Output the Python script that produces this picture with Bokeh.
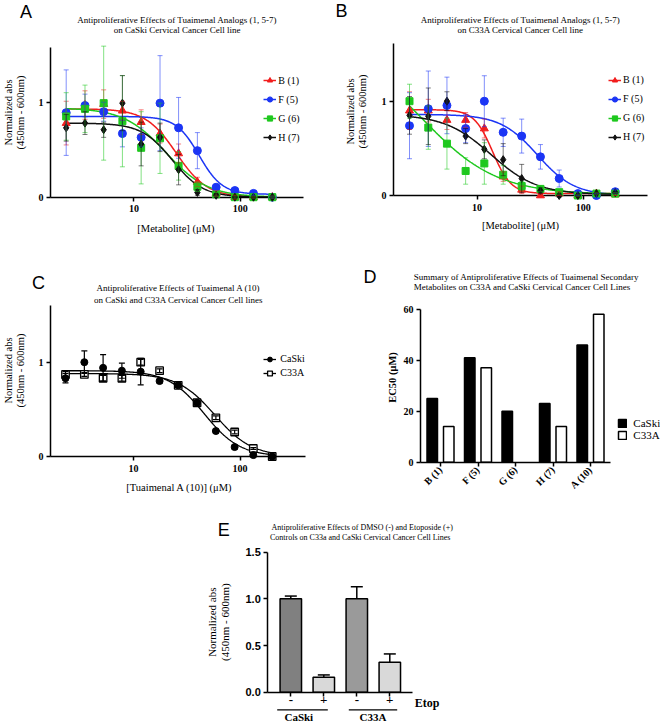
import math
import numpy as np
from bokeh.plotting import figure
from bokeh.layouts import column, row
from bokeh.models import (Range1d, FixedTicker, BasicTickFormatter, NumeralTickFormatter, LinearAxis, LogAxis,
                          Legend, LegendItem, Whisker, TeeHead, ColumnDataSource)
from bokeh.core.properties import value
from bokeh.embed import file_html
from bokeh.resources import INLINE

# ---------------- data ----------------
conc = [2.31, 3.47, 5.20, 7.80, 11.7, 17.6, 26.3, 39.5, 59.3, 88.9, 133.0, 200.0]
compounds = ["B (1)", "F (5)", "G (6)", "H (7)"]

# Panel A : CaSki
caski_B1 = [0.78, 0.97, 0.98, 0.91, 0.79, 0.67, 0.46, 0.16, 0.04, 0.00, 0.00, 0.00]
caski_F5 = [0.89, 0.965, 0.90, 0.67, 0.63, 0.99, 0.73, 0.49, 0.105, 0.07, 0.04, 0.00]
caski_G6 = [0.85, 0.93, 0.99, 0.80, 0.52, 0.62, 0.33, 0.11, 0.03, 0.00, 0.00, 0.00]
caski_H7 = [0.73, 0.78, 0.71, 0.99, 0.56, 0.63, 0.29, 0.05, 0.02, 0.00, 0.00, 0.00]
caski_B1_err = [0.23, 0.15, 0.15, 0.10, 0.13, 0.10, 0.10, 0.05, 0.03, 0.02, 0.01, 0.01]
caski_F5_err = [0.45, 0.12, 0.10, 0.14, 0.10, 0.50, 0.32, 0.19, 0.03, 0.02, 0.02, 0.01]
caski_G6_err = [0.25, 0.25, 0.60, 0.48, 0.38, 0.37, 0.15, 0.05, 0.02, 0.01, 0.01, 0.01]
caski_H7_err = [0.14, 0.12, 0.08, 0.29, 0.23, 0.15, 0.16, 0.03, 0.02, 0.01, 0.01, 0.01]
caski_top = [0.93, 0.85, 0.94, 0.78]
caski_bottom = [0.0, 0.03, 0.0, 0.0]
caski_ec50 = [25.0, 41.0, 20.0, 23.0]
caski_hill = [3.0, 4.0, 2.2, 3.0]

# Panel B : C33A
c33a_B1 = [0.90, 0.90, 0.80, 0.80, 0.71, 0.20, 0.06, 0.00, 0.02, 0.00, 0.02, 0.01]
c33a_F5 = [0.74, 0.92, 0.955, 0.71, 1.00, 0.67, 0.63, 0.41, 0.18, 0.02, 0.00, 0.04]
c33a_G6 = [1.00, 0.72, 0.55, 0.26, 0.34, 0.22, 0.10, 0.07, 0.035, 0.00, 0.02, 0.02]
c33a_H7 = [0.85, 0.84, 1.00, 0.63, 0.49, 0.38, 0.18, 0.05, 0.00, 0.00, 0.02, 0.03]
c33a_B1_err = [0.20, 0.12, 0.10, 0.08, 0.10, 0.05, 0.04, 0.02, 0.02, 0.01, 0.01, 0.01]
c33a_F5_err = [0.35, 0.40, 0.30, 0.15, 0.27, 0.15, 0.18, 0.13, 0.09, 0.02, 0.02, 0.02]
c33a_G6_err = [0.18, 0.23, 0.27, 0.14, 0.22, 0.10, 0.05, 0.03, 0.02, 0.01, 0.01, 0.01]
c33a_H7_err = [0.20, 0.30, 0.10, 0.08, 0.10, 0.17, 0.15, 0.03, 0.02, 0.01, 0.01, 0.01]
c33a_top = [0.91, 0.86, 1.60, 0.86]
c33a_bottom = [0.02, 0.0, 0.01, 0.01]
c33a_ec50 = [14.0, 37.0, 3.1, 13.5]
c33a_hill = [5.0, 2.5, 1.25, 2.0]

# Panel C : Tuaimenal A (10)
lines_C = ["CaSki", "C33A"]
a10_caski = [0.83, 1.00, 0.94, 0.91, 0.90, 0.80, 0.755, 0.57, 0.27, 0.10, 0.015, 0.0]
a10_c33a = [0.87, 0.87, 0.83, 0.83, 1.00, 0.91, 0.755, 0.57, 0.41, 0.26, 0.085, 0.0]
a10_caski_err = [0.05, 0.12, 0.14, 0.08, 0.14, 0.02, 0.02, 0.02, 0.02, 0.02, 0.01, 0.01]
a10_c33a_err = [0.03, 0.02, 0.03, 0.03, 0.03, 0.02, 0.02, 0.02, 0.02, 0.02, 0.01, 0.01]
a10_top = [0.91, 0.88]
a10_bottom = [0.0, 0.0]
a10_ec50 = [46.0, 58.0]
a10_hill = [2.6, 2.5]

# Panel D : EC50 summary
d_cats = ["B (1)", "F (5)", "G (6)", "H (7)", "A (10)"]
d_caski = [25, 41, 20, 23, 46]
d_c33a = [14, 37, float("nan"), 14, 58]
d_ticks = [0, 20, 40, 60]

# Panel E : controls
e_cats = ["CaSki -", "CaSki +", "C33A -", "C33A +"]
e_ticklabels = ["-", "+", "-", "+"]
e_vals = [1.00, 0.16, 1.00, 0.32]
e_err = [0.03, 0.025, 0.13, 0.09]
e_ticks = [0.0, 0.5, 1.0, 1.5]

# ---------------- helpers ----------------
SERIF = "Liberation Serif"
SANS = "Liberation Sans"


class Panel:
    """A figure whose frame covers its whole page region; page pixels <-> data."""

    def __init__(self, ox, oy, w, h, xref, yref, xlog=False):
        self.ox, self.oy, self.w, self.h, self.xlog = ox, oy, w, h, xlog
        (px1, v1), (px2, v2) = xref
        if xlog:
            v1, v2 = math.log10(v1), math.log10(v2)
        self.xa, self.xp, self.xs = v1, px1, (v2 - v1) / (px2 - px1)
        (py1, u1), (py2, u2) = yref
        self.ya, self.yp, self.ys = u1, py1, (u2 - u1) / (py2 - py1)
        kw = dict(x_axis_type="log") if xlog else {}
        p = figure(width=w, height=h, x_range=Range1d(self.X(ox), self.X(ox + w)),
                   y_range=Range1d(self.Y(oy + h), self.Y(oy)), output_backend="svg",
                   toolbar_location=None, title=None, x_axis_location=None, y_axis_location=None,
                   min_border=0, **kw)
        p.grid.visible = False
        p.outline_line_color = None
        p.background_fill_color = "white"
        p.border_fill_color = "white"
        self.p = p

    def X(self, px):
        v = self.xa + (px - self.xp) * self.xs
        return 10 ** v if self.xlog else v

    def Y(self, py):
        return self.ya + (py - self.yp) * self.ys

    def text(self, px, py, s, size, font=SERIF, style="normal", align="center", angle=0.0):
        self.p.text(x=[self.X(px)], y=[self.Y(py)], text=[s], text_font=value(font),
                    text_font_size=value(f"{size}px"), text_font_style=style, text_align=align,
                    text_baseline="middle", angle=angle, text_color="black", level="overlay")

    def hline(self, px0, px1, py, width=1.3):
        self.p.segment(x0=[self.X(px0)], y0=[self.Y(py)], x1=[self.X(px1)], y1=[self.Y(py)],
                       line_color="black", line_width=width, level="overlay")

    def axes(self, xb, y0px, yb, x0px, xcls=LinearAxis, xfont=SERIF, xsize=10, yfont=SERIF, ysize=10,
             xstand=4, ystand=3, xtick=4):
        """xb: (left px, right px) of x-axis at page y y0px; yb: (bottom px, top px) of y-axis at x0px."""
        xa = xcls(fixed_location=self.Y(y0px), bounds=(self.X(xb[0]), self.X(xb[1])))
        ya = LinearAxis(fixed_location=self.X(x0px), bounds=(self.Y(yb[0]), self.Y(yb[1])))
        for ax, font, size, stand, tick in [(xa, xfont, xsize, xstand, xtick), (ya, yfont, ysize, ystand, 4)]:
            ax.axis_line_width = 1.5
            ax.axis_line_color = "black"
            ax.major_tick_line_width = 1.5
            ax.major_tick_line_color = "black"
            ax.major_tick_out = tick
            ax.major_tick_in = 0
            ax.minor_tick_line_color = None
            ax.major_label_text_font = font
            ax.major_label_text_font_size = f"{size}px"
            ax.major_label_text_font_style = "bold"
            ax.major_label_text_color = "black"
            ax.major_label_standoff = stand
        self.p.add_layout(xa, "below")
        self.p.add_layout(ya, "left")
        return xa, ya

    def legend(self, items, left_px, bottom_px, gw, gh, sp, size, standoff):
        leg = Legend(items=items, location=(left_px - self.ox, self.oy + self.h - bottom_px),
                     glyph_width=gw, glyph_height=gh, label_height=gh, label_width=10, spacing=sp,
                     padding=0, margin=0, label_standoff=standoff, border_line_color=None,
                     background_fill_alpha=0, label_text_font=SERIF, label_text_font_size=f"{size}px",
                     label_text_color="black")
        self.p.add_layout(leg)


def logistic(x, top, bottom, ec50, hill):
    return bottom + (top - bottom) / (1.0 + (x / ec50) ** hill)


xs = np.logspace(math.log10(conc[0]), math.log10(conc[-1]), 300)
colors = ["#f21d1d", "#1b35f5", "#1ec81e", "#111111"]
markers = ["triangle", "circle", "square", "diamond"]
msizes = [8, 8, 7, 8]


def dose_panel(ox, xref, yref, xb, y0px, yb, x0px, vals, errs, top, bottom, ec50, hill, letter, letter_xy,
               title_x, title2, ylab_x, ylab_y, xlab, xlab_xy, leg_left, leg_bottom):
    P = Panel(ox, 0, 330, 245, xref, yref, xlog=True)
    p = P.p
    xa, ya = P.axes(xb, y0px, yb, x0px, xcls=LogAxis)
    xa.ticker = FixedTicker(ticks=[10, 100], minor_ticks=[])
    xa.formatter = BasicTickFormatter()
    ya.ticker = FixedTicker(ticks=[0, 1], minor_ticks=[])
    items = []
    for i, name in enumerate(compounds):
        y = vals[i]
        e = errs[i]
        src = ColumnDataSource(dict(x=conc, y=y, lo=[a - d for a, d in zip(y, e)],
                                    hi=[a + d for a, d in zip(y, e)]))
        p.add_layout(Whisker(source=src, base="x", lower="lo", upper="hi", line_color=colors[i], line_alpha=0.55,
                             line_width=1, level="overlay",
                             upper_head=TeeHead(size=5, line_color=colors[i], line_alpha=0.55, line_width=1),
                             lower_head=TeeHead(size=5, line_color=colors[i], line_alpha=0.55, line_width=1)))
        ln = p.line(xs, logistic(xs, top[i], bottom[i], ec50[i], hill[i]), line_color=colors[i], line_width=1.5)
        sc = p.scatter("x", "y", source=src, marker=markers[i], size=msizes[i], fill_color=colors[i],
                       line_color=colors[i], level="overlay")
        items.append(LegendItem(label=name, renderers=[ln, sc]))
    P.legend(items, leg_left, leg_bottom, 13, 14, 5, 10, 2)
    P.text(letter_xy[0], letter_xy[1], letter, 18, font=SANS)
    P.text(title_x, 19.3, "Antiproliferative Effects of Tuaimenal Analogs (1, 5-7)", 9)
    P.text(title_x, 29.3, title2, 9)
    P.text(ylab_x, ylab_y, "Normalized abs", 10.5, angle=math.pi / 2)
    P.text(ylab_x + 11.5, ylab_y, "(450nm - 600nm)", 10.5, angle=math.pi / 2)
    P.text(xlab_xy[0], xlab_xy[1], xlab, 10.5)
    return p


pA = dose_panel(0, ((133.4, 10), (239.8, 100)), ((196.7, 0), (101.7, 1)), (50, 303), 196.7, (196.7, 47), 50,
                [caski_B1, caski_F5, caski_G6, caski_H7],
                [caski_B1_err, caski_F5_err, caski_G6_err, caski_H7_err],
                caski_top, caski_bottom, caski_ec50, caski_hill,
                "A", (25.5, 11), 176.7, "on CaSki Cervical Cancer Cell line",
                8, 112, "[Metabolite]  (μM)", (176.7, 227.7), 263.3, 144.3)

pB = dose_panel(330, ((476.6, 10), (582.8, 100)), ((195, 0), (100.7, 1)), (393, 647), 195, (195, 43.3), 393,
                [c33a_B1, c33a_F5, c33a_G6, c33a_H7],
                [c33a_B1_err, c33a_F5_err, c33a_G6_err, c33a_H7_err],
                c33a_top, c33a_bottom, c33a_ec50, c33a_hill,
                "B", (341, 10.5), 520, "on C33A Cervical Cancer Cell line",
                350, 111, "[Metabolite] (μM)", (520, 225), 608, 143.7)

# ---------------- Panel C ----------------
PC = Panel(0, 245, 330, 250, ((132.9, 10), (239.6, 100)), ((456, 0), (361.7, 1)), xlog=True)
pC = PC.p
xa, ya = PC.axes((50, 305), 456, (456, 305), 50, xcls=LogAxis)
xa.ticker = FixedTicker(ticks=[10, 100], minor_ticks=[])
xa.formatter = BasicTickFormatter()
ya.ticker = FixedTicker(ticks=[0, 1], minor_ticks=[])
itemsC = {}
c_vals = [a10_caski, a10_c33a]
c_errs = [a10_caski_err, a10_c33a_err]
for i in [1, 0]:
    y = c_vals[i]
    e = c_errs[i]
    src = ColumnDataSource(dict(x=conc, y=y, lo=[a - d for a, d in zip(y, e)], hi=[a + d for a, d in zip(y, e)]))
    pC.add_layout(Whisker(source=src, base="x", lower="lo", upper="hi", line_color="black", line_width=1.2,
                          level="overlay", upper_head=TeeHead(size=6, line_color="black", line_width=1.2),
                          lower_head=TeeHead(size=6, line_color="black", line_width=1.2)))
    ln = pC.line(xs, logistic(xs, a10_top[i], a10_bottom[i], a10_ec50[i], a10_hill[i]), line_color="black",
                 line_width=1.3)
    if i == 0:
        sc = pC.scatter("x", "y", source=src, marker="circle", size=7, fill_color="black", line_color="black",
                        level="overlay")
    else:
        sc = pC.scatter("x", "y", source=src, marker="square", size=7.5, fill_color="white", line_color="black",
                        line_width=1.3, level="overlay")
    itemsC[i] = LegendItem(label=lines_C[i], renderers=[ln, sc])
PC.legend([itemsC[0], itemsC[1]], 263.3, 378.7, 13, 12, 2, 10, 4)
PC.text(38, 282, "C", 18, font=SANS)
PC.text(178, 287.7, "Antiproliferative Effects of Tuaimenal A (10)", 9)
PC.text(178, 299.5, "on CaSki and C33A Cervical Cancer Cell lines", 9)
PC.text(8, 370, "Normalized abs", 10.5, angle=math.pi / 2)
PC.text(19.5, 370, "(450nm - 600nm)", 10.5, angle=math.pi / 2)
PC.text(179, 487, "[Tuaimenal A (10)] (μM)", 10.5)

# ---------------- Panel D ----------------
d_idx = list(range(len(d_cats)))
PD = Panel(330, 245, 330, 250, ((440, 0), (477.5, 1)), ((461.7, 0), (410.7, 20)))
pD = PD.p
xa, ya = PD.axes((420, 610), 461.7, (461.7, 309), 420, xstand=2)
xa.ticker = FixedTicker(ticks=d_idx, minor_ticks=[])
xa.major_label_overrides = {i: c for i, c in zip(d_idx, d_cats)}
xa.major_label_orientation = math.pi / 4
ya.ticker = FixedTicker(ticks=d_ticks, minor_ticks=[])
srcD = ColumnDataSource(dict(xc=[i - 0.22 for i in d_idx], xt=[i + 0.22 for i in d_idx],
                             caski=d_caski, c33a=d_c33a))
r1 = pD.vbar(x="xc", top="caski", width=0.28, source=srcD, fill_color="black", line_color="black", line_width=1.5)
r2 = pD.vbar(x="xt", top="c33a", width=0.28, source=srcD, fill_color="white", line_color="black", line_width=1.5)
PD.legend([LegendItem(label="CaSki", renderers=[r1]), LegendItem(label="C33A", renderers=[r2])],
          617.3, 440.6, 10, 10, 0, 11, 6)
PD.text(369.5, 276.7, "D", 18, font=SANS)
PD.text(413.3, 276, "Summary of Antiproliferative Effects of Tuaimenal  Secondary", 9, align="left")
PD.text(413.3, 286.7, "Metabolites on C33A and CaSki Cervical  Cancer Cell  Lines", 9, align="left")
PD.text(392, 377, "EC50 (μM)", 10.5, style="bold", angle=math.pi / 2)

# ---------------- Panel E ----------------
e_idx = list(range(len(e_cats)))
PE = Panel(0, 495, 660, 227, ((290.3, 0), (323.3, 1)), ((691.7, 0), (551.7, 1.5)))
pE = PE.p
xa, ya = PE.axes((267.3, 411.7), 691.7, (691.7, 551.7), 267.3, xsize=13, xstand=0, xtick=4,
                 yfont=SANS, ysize=11)
xa.ticker = FixedTicker(ticks=e_idx, minor_ticks=[])
xa.major_label_overrides = {i: t for i, t in zip(e_idx, e_ticklabels)}
ya.ticker = FixedTicker(ticks=e_ticks, minor_ticks=[])
ya.formatter = NumeralTickFormatter(format="0.0")
e_colors = ["#808080", "#d9d9d9", "#9a9a9a", "#d9d9d9"]
srcE = ColumnDataSource(dict(x=e_idx, val=e_vals, up=[v + d for v, d in zip(e_vals, e_err)], color=e_colors))
pE.add_layout(Whisker(source=srcE, base="x", lower="val", upper="up", line_color="black", line_width=1.5,
                      lower_head=None, upper_head=TeeHead(size=12, line_color="black", line_width=1.5)))
pE.vbar(x="x", top="val", width=0.65, source=srcE, fill_color="color", line_color="black", line_width=1.5)
PE.text(223.3, 529, "E", 18, font=SANS)
PE.text(361.7, 527.3, "Antiproliferative Effects of DMSO (-) and Etoposide (+)", 8)
PE.text(361.7, 536.7, "Controls on C33a and CaSki  Cervical Cancer Cell  Lines", 8)
PE.text(211.7, 621.7, "Normalized abs", 11, angle=math.pi / 2)
PE.text(224.5, 621.7, "(450nm - 600nm)", 11, angle=math.pi / 2)
PE.text(426.7, 702.5, "Etop", 12, style="bold")
PE.text(298.3, 716.5, "CaSki", 11, style="bold")
PE.text(372.5, 716.5, "C33A", 11, style="bold")
PE.hline(276.7, 327.3, 709.3)
PE.hline(348.3, 396.7, 709.3)

layout = column(row(pA, pB), row(pC, pD), pE)
open("out.html", "w").write(file_html(layout, INLINE))
